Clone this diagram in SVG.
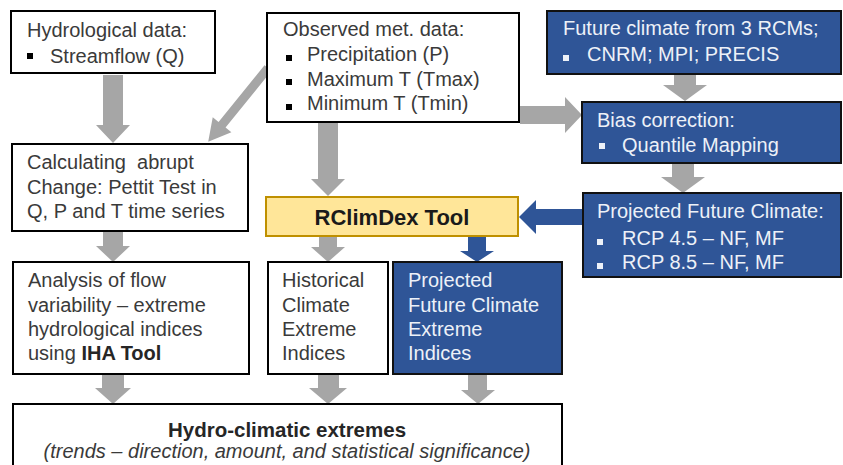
<svg xmlns="http://www.w3.org/2000/svg" width="843" height="465" viewBox="0 0 843 465">
  <style>
    .box { fill: #ffffff; stroke: #000000; stroke-width: 2; }
    .blue { fill: #2F5597; stroke: #111111; stroke-width: 2; }
    .tool { fill: #FFE699; stroke: #BF9000; stroke-width: 2; }
    .t { font-family: "Liberation Sans", Arial, sans-serif; font-size: 20px; fill: #3a3a3a; white-space: pre; }
    .tw { font-family: "Liberation Sans", Arial, sans-serif; font-size: 20px; fill: #EDF1F8; white-space: pre; }
    .b { font-weight: bold; fill: #262626; }
    .bul { fill: #000000; }
    .bulw { fill: #EDF1F8; }
    .ga { fill: #A6A6A6; }
    .ba { fill: #2F5597; }
  </style>

  <!-- connectors -->
  <g id="connectors">
    <polygon class="ga" points="103,75 123,75 123,125 130,125 113,143 96,125 103,125"/>
    <polygon class="ga" transform="translate(268,68) rotate(129)" points="0,-4.5 73,-4.5 73,-12 95,0 73,12 73,4.5 0,4.5"/>
    <polygon class="ga" points="103,232 123,232 123,246 130,246 113,262 96,246 103,246"/>
    <polygon class="ga" points="318,123 338,123 338,179 345,179 328,196 311,179 318,179"/>
    <polygon class="ga" points="319,237 337,237 337,247 345,247 328,262 311,247 319,247"/>
    <polygon class="ba" points="468,237 486,237 486,251 494,251 477,262 460,251 468,251"/>
    <polygon class="ba" points="583,209 536,209 536,200 519,217 536,234 536,225 583,225"/>
    <polygon class="ga" points="520,106 565,106 565,97 582,115 565,133 565,124 520,124"/>
    <polygon class="ga" points="674,75 696,75 696,85 707,85 685,101 663,85 674,85"/>
    <polygon class="ga" points="672,164 694,164 694,177 705,177 683,193 661,177 672,177"/>
    <polygon class="ga" points="102,375 124,375 124,388 131,388 113,404 95,388 102,388"/>
    <polygon class="ga" points="318,375 339,375 339,388 347,388 328,404 309,388 318,388"/>
    <polygon class="ga" points="468,375 487,375 487,390 495,390 478,404 461,390 468,390"/>
  </g>

  <!-- input data -->
  <g id="hydrological-data">
    <rect class="box" x="11" y="11" width="204" height="62"/>
    <text class="t" x="27" y="37">Hydrological data:</text>
    <rect class="bul" x="27" y="53" width="6" height="6"/>
    <text class="t" x="50" y="63">Streamflow (Q)</text>
  </g>

  <g id="observed-met-data">
    <rect class="box" x="267" y="13" width="252" height="109"/>
    <text class="t" x="283" y="36">Observed met. data:</text>
    <rect class="bul" x="286" y="55" width="6" height="6"/>
    <text class="t" x="307" y="61">Precipitation (P)</text>
    <rect class="bul" x="286" y="79" width="6" height="6"/>
    <text class="t" x="307" y="85.5">Maximum T (Tmax)</text>
    <rect class="bul" x="286" y="104" width="6" height="6"/>
    <text class="t" x="307" y="110">Minimum T (Tmin)</text>
  </g>

  <g id="future-climate-rcms">
    <rect class="blue" x="547" y="11" width="294" height="63"/>
    <text class="tw" x="563" y="35">Future climate from 3 RCMs;</text>
    <rect class="bulw" x="563" y="55" width="6" height="6"/>
    <text class="tw" x="587" y="61">CNRM; MPI; PRECIS</text>
  </g>

  <!-- processing -->
  <g id="bias-correction">
    <rect class="blue" x="582" y="102" width="259" height="61"/>
    <text class="tw" x="597" y="127">Bias correction:</text>
    <rect class="bulw" x="599" y="143" width="6" height="6"/>
    <text class="tw" x="622" y="152">Quantile Mapping</text>
  </g>

  <g id="pettit-test">
    <rect class="box" x="12" y="144" width="236" height="87"/>
    <text class="t" x="27" y="169">Calculating  abrupt</text>
    <text class="t" x="27" y="193.5">Change: Pettit Test in</text>
    <text class="t" x="27" y="218">Q, P and T time series</text>
  </g>

  <g id="rclimdex-tool">
    <rect class="tool" x="266" y="197" width="252" height="39"/>
    <text class="t b" x="392" y="225" text-anchor="middle" font-size="22" style="font-size:22px;fill:#1a1a1a">RClimDex Tool</text>
  </g>

  <g id="projected-future-climate">
    <rect class="blue" x="583" y="193" width="258" height="84"/>
    <text class="tw" x="597" y="218">Projected Future Climate:</text>
    <rect class="bulw" x="597" y="239" width="6" height="6"/>
    <text class="tw" x="622" y="245">RCP 4.5 – NF, MF</text>
    <rect class="bulw" x="597" y="263" width="6" height="6"/>
    <text class="tw" x="622" y="269">RCP 8.5 – NF, MF</text>
  </g>

  <!-- indices -->
  <g id="flow-variability">
    <rect class="box" x="13" y="262" width="236" height="112"/>
    <text class="t" x="28" y="287">Analysis of flow</text>
    <text class="t" x="28" y="311.5">variability – extreme</text>
    <text class="t" x="28" y="336">hydrological indices</text>
    <text class="t" x="28" y="360">using <tspan class="b">IHA Tool</tspan></text>
  </g>

  <g id="historical-indices">
    <rect class="box" x="268" y="262" width="120" height="112"/>
    <text class="t" x="282" y="287">Historical</text>
    <text class="t" x="282" y="311.5">Climate</text>
    <text class="t" x="282" y="336">Extreme</text>
    <text class="t" x="282" y="360">Indices</text>
  </g>

  <g id="projected-indices">
    <rect class="blue" x="393" y="262" width="169" height="112"/>
    <text class="tw" x="408" y="287">Projected</text>
    <text class="tw" x="408" y="311.5">Future Climate</text>
    <text class="tw" x="408" y="336">Extreme</text>
    <text class="tw" x="408" y="360">Indices</text>
  </g>

  <!-- result -->
  <g id="hydro-climatic-extremes">
    <rect class="box" x="13" y="404" width="549" height="70"/>
    <text class="t b" x="287" y="437" text-anchor="middle" style="font-size:20.5px">Hydro-climatic extremes</text>
    <text class="t" x="287" y="458" text-anchor="middle" font-style="italic">(trends – direction, amount, and statistical significance)</text>
  </g>
</svg>
